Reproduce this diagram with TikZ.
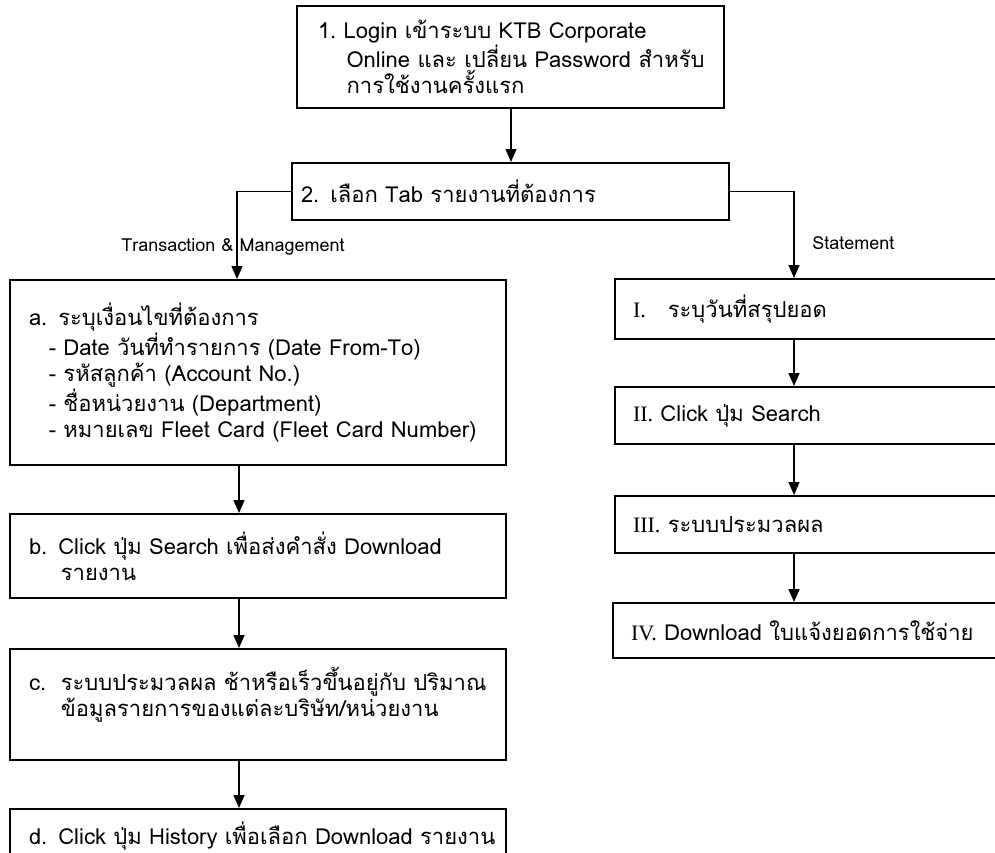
\documentclass[tikz,border=0pt]{standalone}
\usepackage{fontspec}
\setmainfont[Script=Thai]{Loma}
\newfontfamily\romfont{Liberation Serif}
\usetikzlibrary{arrows.meta}

\begin{document}
\begin{tikzpicture}[x=0.5pt,y=-0.5pt,
  box/.style={draw,line width=1pt,anchor=north west,align=left,inner xsep=9.5pt,inner ysep=0pt,font=\fontsize{11}{13}\selectfont},
  arr/.style={line width=0.7pt,-{Triangle[width=5.5pt,length=6.5pt]}},
  lbl/.style={font=\fontsize{9}{10}\selectfont,inner sep=0pt}]
\useasboundingbox (0,0) rectangle (995,852);
\clip (0,0) rectangle (995,852);
\node [box,text width=192.5pt,minimum height=51pt,inner xsep=10.5pt] (login) at (296,5) {\mbox{1.\ Login เข้าระบบ KTB Corporate}\\\mbox{\hspace*{1.3em}Online และ เปลี่ยน Password สำหรับ}\\\hspace*{1.3em}การใช้งานครั้งแรก};
\node [box,text width=209.5pt,minimum height=28.5pt,inner xsep=4.5pt] (tab) at (291,162) {2. เลือก Tab รายงานที่ต้องการ};
\node [box,text width=229pt,minimum height=92.5pt] (cond) at (9,279) {a. ระบุเงื่อนไขที่ต้องการ\\
  \hspace*{0.9em}- Date วันที่ทำรายการ (Date From-To)\\
  \hspace*{0.9em}- รหัสลูกค้า (Account No.)\\
  \hspace*{0.9em}- ชื่อหน่วยงาน (Department)\\
  \mbox{\hspace*{0.9em}- หมายเลข Fleet Card (Fleet Card Number)}};
\node [box,text width=229pt,minimum height=42pt] (search) at (9,513) {\mbox{b. Click ปุ่ม Search เพื่อส่งคำสั่ง Download}\\\hspace*{1.45em}รายงาน};
\node [box,text width=229pt,minimum height=55.5pt] (proc) at (9,648) {\mbox{c.\ \ ระบบประมวลผล ช้าหรือเร็วขึ้นอยู่กับ ปริมาณ}\\\mbox{\hspace*{1.45em}ข้อมูลรายการของแต่ละบริษัท/หน่วยงาน}\\ \mbox{}};
\node [box,text width=229pt,minimum height=27.5pt] (hist) at (9,808) {\mbox{d. Click ปุ่ม History เพื่อเลือก Download รายงาน}};
\node [box,text width=177.5pt,minimum height=30pt,inner xsep=9pt] (date) at (614,278) {{\romfont I.}\quad ระบุวันที่สรุปยอด};
\node [box,text width=177.5pt,minimum height=28.5pt,inner xsep=9pt] (srch) at (614,386) {{\romfont II.} Click ปุ่ม Search};
\node [box,text width=177.5pt,minimum height=28.5pt,inner xsep=9pt] (sproc) at (614,495) {{\romfont III.} ระบบประมวลผล};
\node [box,text width=178.5pt,minimum height=27.5pt,inner xsep=9pt] (dl) at (612,602) {{\romfont IV.} Download ใบแจ้งยอดการใช้จ่าย};
\node [lbl] (tm) at (233,247) {Transaction \& Management};
\node [lbl,anchor=west] (st) at (812,243) {Statement};
\draw [arr] ([xshift=107.5pt]login.south west) -- ([xshift=110pt]tab.north west);
\draw [arr] (tab.west) -| ([xshift=114pt]cond.north west);
\draw [arr] (tab.east) -| ([xshift=90pt]date.north west);
\draw [arr] ([xshift=115pt]cond.south west) -- ([xshift=115pt]search.north west);
\draw [arr] ([xshift=115pt]search.south west) -- ([xshift=115pt]proc.north west);
\draw [arr] ([xshift=115pt]proc.south west) -- ([xshift=115pt]hist.north west);
\draw [arr] ([xshift=90pt]date.south west) -- ([xshift=90pt]srch.north west);
\draw [arr] ([xshift=90pt]srch.south west) -- ([xshift=90pt]sproc.north west);
\draw [arr] ([xshift=90pt]sproc.south west) -- ([xshift=91pt]dl.north west);
\end{tikzpicture}
\end{document}
